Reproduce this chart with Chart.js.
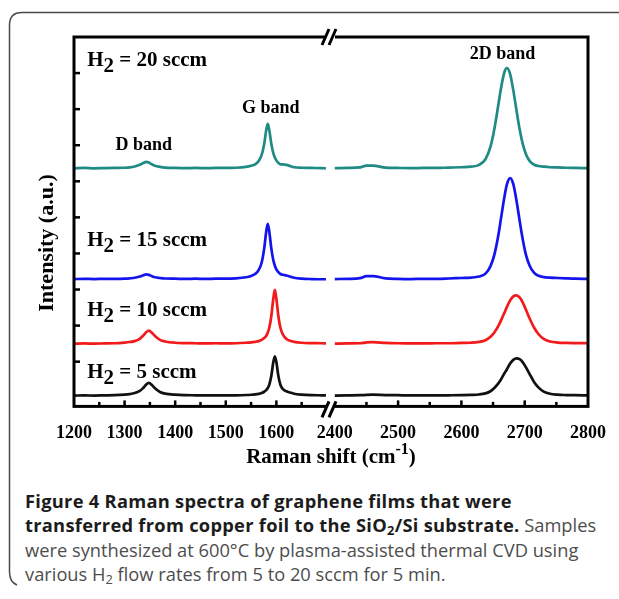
<!DOCTYPE html>
<html>
<head>
<meta charset="utf-8">
<script src="https://cdn.jsdelivr.net/npm/chart.js@4/dist/chart.umd.min.js"></script>
<style>
  html, body { margin: 0; padding: 0; background: #fff; width: 619px; height: 599px; overflow: hidden; }
  #frame { position: absolute; left: 0; top: 0; }
  #c { position: absolute; left: 0; top: 0; }
  #cap { position: absolute; left: 25px; top: 489px; font-family: "Open Sans", sans-serif; font-size: 18.3px;
         line-height: 24.3px; color: #4d4d4d; white-space: nowrap; }
  #cap b { color: #1c1c1c; letter-spacing: 0.28px; }
  #cap sub { font-size: 0.7em; vertical-align: -0.25em; line-height: 0; }
</style>
</head>
<body>
<svg id="frame" width="619" height="599">
  <path d="M619 12.5 H22 Q9.5 12.5 9.5 25 V572 Q9.5 582 17 585" fill="none" stroke="#4a4a4a" stroke-width="1.5"/>
</svg>
<canvas id="c" width="619" height="480"></canvas>
<div id="cap"><b>Figure 4 Raman spectra of graphene films that were<br>transferred from copper foil to the SiO<sub>2</sub>/Si substrate.</b> Samples<br>were synthesized at 600°C by plasma-assisted thermal CVD using<br>various H<sub>2</sub> flow rates from 5 to 20 sccm for 5 min.</div>
<script>
// ---------- data (Raman shift in cm^-1, intensity in a.u., spectra offset vertically) ----------
const leftX = [1200,1220,1240,1260,1280,1300,1310,1320,1330,1336,1343,1348,1354,1360,1370,1380,1400,1420,1440,1460,1480,1500,1520,1540,1550,1558,1565,1571,1576,1580,1583,1586,1590,1594,1597,1600,1604,1608,1613,1620,1627,1635,1650,1670,1690,1698];
const rightX = [2400,2420,2440,2450,2460,2480,2500,2520,2540,2560,2580,2600,2615,2628,2638,2646,2652,2658,2663,2668,2672,2677,2682,2687,2692,2697,2702,2708,2715,2722,2730,2740,2752,2765,2780,2800];

const h20Left = [6.36,6.37,6.36,6.365,6.37,6.375,6.385,6.41,6.46,6.50,6.54,6.52,6.47,6.43,6.40,6.38,6.37,6.365,6.37,6.365,6.37,6.37,6.375,6.40,6.43,6.47,6.56,6.73,7.04,7.42,7.59,7.42,7.04,6.78,6.66,6.58,6.51,6.47,6.47,6.455,6.425,6.39,6.375,6.37,6.365,6.36];
const h20Right = [6.365,6.37,6.385,6.435,6.435,6.38,6.37,6.365,6.37,6.37,6.38,6.39,6.405,6.455,6.61,6.96,7.44,8.08,8.62,9.03,9.14,8.97,8.52,7.97,7.44,7.03,6.75,6.56,6.46,6.424,6.405,6.39,6.385,6.375,6.37,6.365];

const h15Left = [3.29,3.295,3.29,3.295,3.295,3.30,3.31,3.325,3.36,3.39,3.42,3.405,3.37,3.34,3.32,3.305,3.30,3.295,3.30,3.295,3.30,3.30,3.31,3.34,3.375,3.43,3.54,3.75,4.14,4.61,4.82,4.61,4.14,3.81,3.66,3.56,3.48,3.43,3.41,3.39,3.36,3.325,3.30,3.29,3.285,3.285];
const h15Right = [3.29,3.295,3.315,3.37,3.37,3.31,3.295,3.29,3.295,3.295,3.305,3.32,3.33,3.36,3.44,3.65,3.96,4.47,5.02,5.57,5.92,6.09,5.92,5.47,4.91,4.38,3.96,3.65,3.46,3.38,3.345,3.33,3.32,3.31,3.30,3.295];

const h10Left = [1.50,1.505,1.50,1.505,1.51,1.53,1.545,1.57,1.635,1.71,1.82,1.86,1.80,1.71,1.605,1.56,1.525,1.515,1.51,1.505,1.51,1.505,1.51,1.525,1.535,1.55,1.57,1.605,1.655,1.72,1.81,1.94,2.26,2.75,2.99,2.75,2.26,1.94,1.75,1.63,1.58,1.55,1.525,1.515,1.51,1.505];
const h10Right = [1.50,1.505,1.51,1.535,1.54,1.52,1.51,1.505,1.505,1.51,1.51,1.52,1.525,1.547,1.596,1.69,1.81,1.98,2.16,2.36,2.52,2.70,2.81,2.84,2.78,2.64,2.44,2.19,1.94,1.76,1.63,1.56,1.53,1.52,1.515,1.51];

const h5Left = [0.06,0.065,0.06,0.065,0.07,0.087,0.102,0.13,0.19,0.26,0.37,0.41,0.35,0.26,0.16,0.116,0.084,0.072,0.068,0.065,0.065,0.065,0.068,0.076,0.083,0.093,0.108,0.132,0.166,0.21,0.27,0.36,0.6,0.99,1.15,0.99,0.6,0.36,0.24,0.18,0.145,0.11,0.085,0.072,0.068,0.065];
const h5Right = [0.06,0.065,0.07,0.08,0.085,0.075,0.07,0.065,0.065,0.065,0.068,0.072,0.078,0.09,0.12,0.18,0.27,0.39,0.52,0.68,0.79,0.95,1.05,1.09,1.07,0.98,0.84,0.65,0.43,0.28,0.17,0.11,0.085,0.075,0.07,0.065];

const seriesNames = ['H2 = 20 sccm', 'H2 = 15 sccm', 'H2 = 10 sccm', 'H2 = 5 sccm'];
const leftMajor = [1200,1300,1400,1500,1600];
const leftMinor = [1250,1350,1450,1550,1650];
const rightMajor = [2400,2500,2600,2700,2800];
const rightMinor = [2450,2550,2650,2750];
const yTicks = [1,2,3,4,5,6,7,8,9];
const bandLabels = ['D band', 'G band', '2D band'];

// ---------- build datasets ----------
const colors = ['#1f8b84', '#1414ee', '#f21b1b', '#111111'];
const lefts = [h20Left, h15Left, h10Left, h5Left];
const rights = [h20Right, h15Right, h10Right, h5Right];
const datasets = [];
lefts.forEach((arr, i) => datasets.push({
  label: seriesNames[i] + ' (1200-1700)', xAxisID: 'x', yAxisID: 'y',
  data: leftX.map((x, k) => ({x: x, y: arr[k]})), borderColor: colors[i]
}));
rights.forEach((arr, i) => datasets.push({
  label: seriesNames[i] + ' (2400-2800)', xAxisID: 'x2', yAxisID: 'y',
  data: rightX.map((x, k) => ({x: x, y: arr[k]})), borderColor: colors[i]
}));

const tickFont = {family: '"Liberation Serif", "Times New Roman", serif', weight: 'bold', size: 18};
const SERIF = '"Liberation Serif", "Times New Roman", serif';

const decor = {
  id: 'decor',
  afterDraw(chart) {
    const {ctx, chartArea: a, scales} = chart;
    const xl = scales.x, xr = scales.x2, y = scales.y;
    ctx.save();
    ctx.strokeStyle = '#000';
    ctx.fillStyle = '#000';
    // frame
    ctx.lineWidth = 3;
    ctx.strokeRect(a.left, a.top, a.right - a.left, a.bottom - a.top);
    // inward ticks
    ctx.lineWidth = 2.5;
    const bt = (px, len) => { ctx.beginPath(); ctx.moveTo(px, a.bottom); ctx.lineTo(px, a.bottom - len); ctx.stroke(); };
    leftMajor.forEach(v => { if (v !== 1200) bt(xl.getPixelForValue(v), 6); });
    leftMinor.forEach(v => bt(xl.getPixelForValue(v), 4.5));
    rightMajor.forEach(v => { if (v !== 2800 && v !== 2400) bt(xr.getPixelForValue(v), 6); });
    rightMinor.forEach(v => bt(xr.getPixelForValue(v), 4.5));
    yTicks.forEach(v => { const py = y.getPixelForValue(v); ctx.beginPath(); ctx.moveTo(a.left, py); ctx.lineTo(a.left + 6, py); ctx.stroke(); });
    // axis breaks
    const bx = xl.right;
    [[a.top, a.top], [a.bottom, a.bottom + 3]].forEach(([ly, cy]) => {
      ctx.fillStyle = '#fff';
      ctx.fillRect(bx - 5, ly - 2.5, 9, 5);
      ctx.lineWidth = 3;
      for (let k = 0; k < 2; k++) {
        ctx.beginPath();
        ctx.moveTo(bx - 9 + 7 * k, cy + 8);
        ctx.lineTo(bx - 2 + 7 * k, cy - 8);
        ctx.stroke();
      }
    });
    ctx.fillStyle = '#000';
    // series labels H2 = .. sccm
    const hLabel = (name, xv, yv) => {
      const px = xl.getPixelForValue(xv), py = y.getPixelForValue(yv);
      ctx.font = 'bold 21px ' + SERIF;
      ctx.textAlign = 'left'; ctx.textBaseline = 'alphabetic';
      ctx.fillText('H', px, py);
      let w = ctx.measureText('H').width;
      ctx.fillText('2', px + w, py + 6);
      w += ctx.measureText('2').width;
      ctx.fillText(name.slice(2), px + w, py);
    };
    hLabel(seriesNames[0], 1226, 9.19);
    hLabel(seriesNames[1], 1226, 4.22);
    hLabel(seriesNames[2], 1226, 2.26);
    hLabel(seriesNames[3], 1226, 0.55);
    // band labels
    ctx.font = 'bold 18px ' + SERIF;
    ctx.textAlign = 'center';
    ctx.fillText(bandLabels[0], xl.getPixelForValue(1338), y.getPixelForValue(6.88));
    ctx.fillText(bandLabels[1], xl.getPixelForValue(1589), y.getPixelForValue(7.89));
    ctx.fillText(bandLabels[2], xr.getPixelForValue(2665), y.getPixelForValue(9.38));
    // y title
    ctx.save();
    ctx.translate(47, 243);
    ctx.rotate(-Math.PI / 2);
    ctx.font = 'bold 22px ' + SERIF;
    ctx.textAlign = 'center'; ctx.textBaseline = 'middle';
    ctx.fillText('Intensity (a.u.)', 0, 0);
    ctx.restore();
    // x title with superscript
    const p1 = 'Raman shift (cm', p2 = '-1', p3 = ')';
    ctx.textAlign = 'left'; ctx.textBaseline = 'alphabetic';
    ctx.font = 'bold 21px ' + SERIF; const w1 = ctx.measureText(p1).width; const w3 = ctx.measureText(p3).width;
    ctx.font = 'bold 16px ' + SERIF; const w2 = ctx.measureText(p2).width;
    let sx = 331 - (w1 + w2 + w3) / 2; const by = 463;
    ctx.font = 'bold 21px ' + SERIF; ctx.fillText(p1, sx, by);
    ctx.font = 'bold 16px ' + SERIF; ctx.fillText(p2, sx + w1, by - 9);
    ctx.font = 'bold 21px ' + SERIF; ctx.fillText(p3, sx + w1 + w2, by);
    ctx.restore();
  }
};

new Chart(document.getElementById('c').getContext('2d'), {
  type: 'line',
  data: {datasets: datasets},
  options: {
    responsive: false,
    animation: false,
    devicePixelRatio: 1,
    layout: {padding: {left: 74, right: 31, top: 37, bottom: 28}},
    plugins: {legend: {display: false}, tooltip: {enabled: false}},
    elements: {
      point: {radius: 0, hoverRadius: 0},
      line: {borderWidth: 2.7, cubicInterpolationMode: 'monotone', fill: false}
    },
    scales: {
      x: {
        type: 'linear', position: 'bottom', stack: 'xs', stackWeight: 1, weight: 0,
        min: 1200, max: 1708,
        grid: {display: false}, border: {display: false},
        afterBuildTicks: s => { s.ticks = leftMajor.map(v => ({value: v})); },
        ticks: {font: tickFont, color: '#000', padding: 8, maxRotation: 0, autoSkip: false, callback: v => String(v)}
      },
      x2: {
        type: 'linear', position: 'bottom', stack: 'xs', stackWeight: 1, weight: 1,
        min: 2394, max: 2800,
        grid: {display: false}, border: {display: false},
        afterBuildTicks: s => { s.ticks = rightMajor.map(v => ({value: v})); },
        ticks: {font: tickFont, color: '#000', padding: 8, maxRotation: 0, autoSkip: false, callback: v => String(v)}
      },
      y: {type: 'linear', position: 'left', display: false, min: -0.24, max: 10}
    }
  },
  plugins: [decor]
});
</script>
</body>
</html>
